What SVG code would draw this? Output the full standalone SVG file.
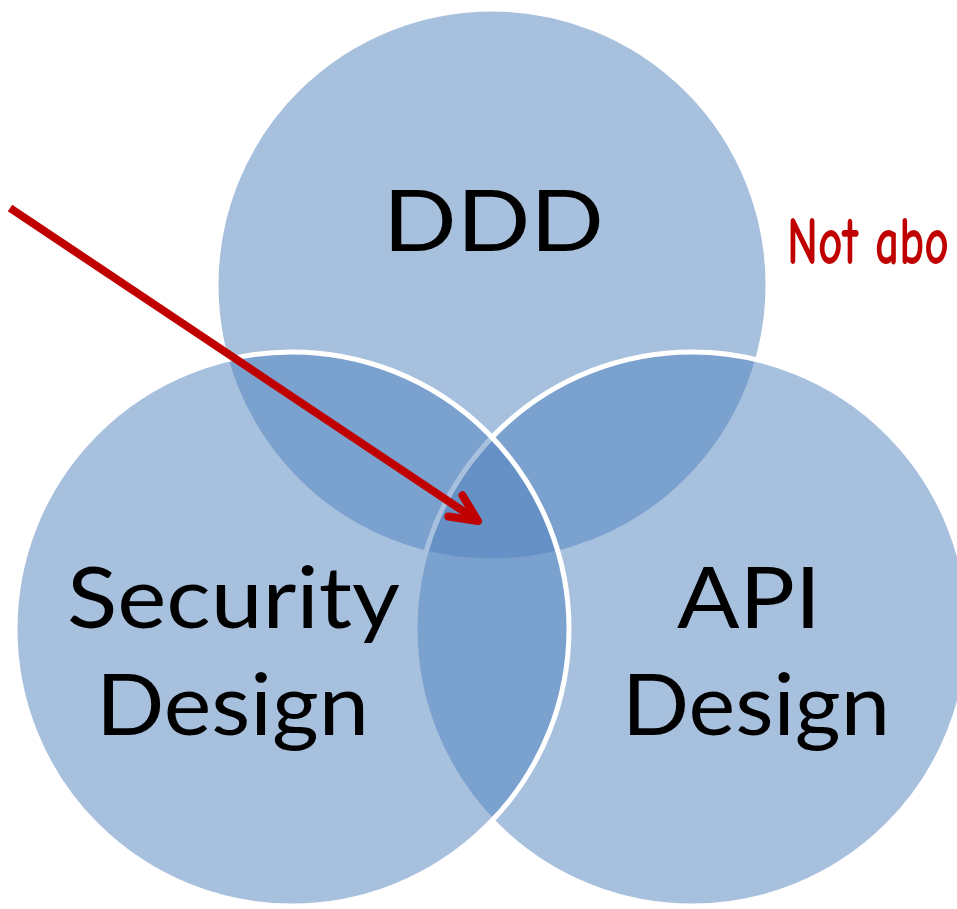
<svg xmlns="http://www.w3.org/2000/svg" width="957" height="909" viewBox="0 0 957 909">
  <style>
    .set { fill: #4F81BD; fill-opacity: 0.5; stroke: #FFFFFF; stroke-width: 5; }
    .label { font-family: "Gill Sans MT", "Gill Sans", Lato, "Open Sans", sans-serif; font-size: 86px; fill: #000000; text-anchor: middle; }
    .note { font-family: "Comic Sans MS", "Comic Neue", "DejaVu Sans", sans-serif; font-size: 68px; font-weight: bold; fill: #C00000; }
    .pointer { fill: none; stroke: #C00000; stroke-width: 8; }
  </style>
  <defs>
    <marker id="open-head" markerUnits="userSpaceOnUse" orient="auto" markerWidth="60" markerHeight="60" refX="0" refY="0" viewBox="-40 -30 60 60" overflow="visible">
      <path d="M -27.2 -12.7 L 0 0 L -27.2 12.7" fill="none" stroke="#C00000" stroke-width="8" stroke-linecap="round" stroke-linejoin="round"/>
    </marker>
  </defs>
  <rect width="957" height="909" fill="#FFFFFF"/>

  <!-- Venn sets: drawn DDD, then API, then Security -->
  <g id="ddd">
    <circle class="set" cx="492" cy="285" r="276"/>
    <text class="label" x="493.5" y="251" textLength="221" lengthAdjust="spacingAndGlyphs">DDD</text>
  </g>
  <g id="api-design">
    <circle class="set" cx="692" cy="629" r="277"/>
  </g>
  <g id="security-design">
    <circle class="set" cx="292" cy="629" r="277"/>
  </g>

  <!-- set labels above all fills -->
  <g id="security-label">
    <text class="label" x="233.5" y="628" textLength="333" lengthAdjust="spacingAndGlyphs">Security</text>
    <text class="label" x="232.5" y="735" textLength="273" lengthAdjust="spacingAndGlyphs">Design</text>
  </g>
  <g id="api-label">
    <text class="label" x="749" y="628" textLength="144" lengthAdjust="spacingAndGlyphs">API</text>
    <text class="label" x="756" y="735" textLength="268" lengthAdjust="spacingAndGlyphs">Design</text>
  </g>

  <!-- handwritten side note, condensed horizontally -->
  <g id="note" transform="translate(787 264) scale(0.7 1)">
    <text class="note" x="0" y="0">Not abo</text>
  </g>

  <g id="connectors">
    <path class="pointer" d="M 10 208 L 478 521" marker-end="url(#open-head)"/>
  </g>
</svg>
